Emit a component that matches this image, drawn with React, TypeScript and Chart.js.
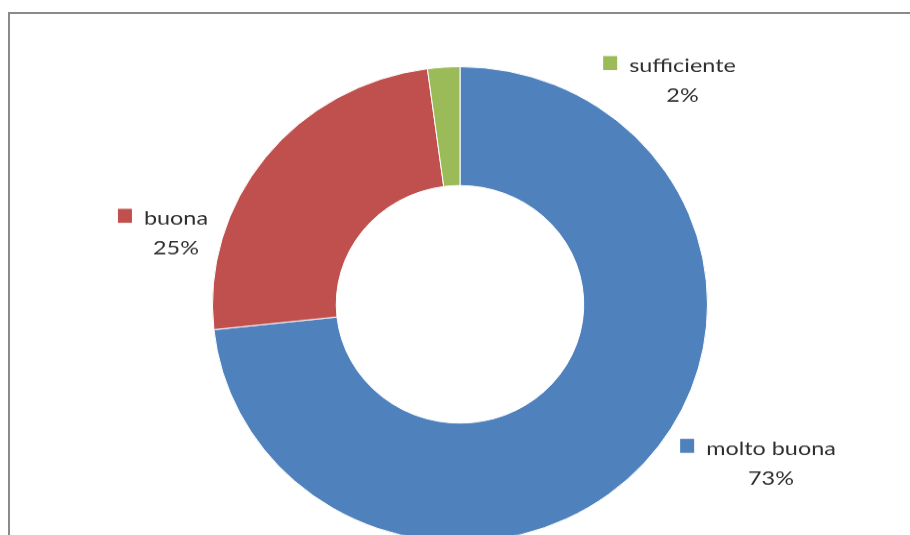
import React, { useEffect, useRef } from "react";
import { Chart, registerables } from "chart.js";

Chart.register(...registerables);

const categories = ["molto buona", "buona", "sufficiente"];
const values = [73.3, 24.6, 2.1];
const percentLabels = ["73%", "25%", "2%"];
const colors = ["#4F81BD", "#C0504D", "#9BBB59"];

// label anchor offsets (name text centre x, name baseline y), canvas px, relative to the doughnut centre
const labelOffsets = [
  { dx: 311, dy: 156.8 },
  { dx: -284, dy: -82.8 },
  { dx: 222.5, dy: -241.9 },
];

const FONT = '20px Lato, "Open Sans", sans-serif';
const TEXT_STRETCH = 1.17;
const CANVAS_W = 910;
const CANVAS_H = 600;
const Y_SCALE = 0.96;

const labelPlugin = {
  id: "outerLabels",
  afterDatasetsDraw(chart: any) {
    const ctx = chart.ctx;
    const meta = chart.getDatasetMeta(0);
    ctx.save();
    ctx.font = FONT;
    ctx.textBaseline = "alphabetic";
    ctx.textAlign = "center";
    meta.data.forEach((arc: any, i: number) => {
      const off = labelOffsets[i];
      const tx = arc.x + off.dx;
      const ty = arc.y + off.dy;
      const name = categories[i];
      const w = ctx.measureText(name).width * TEXT_STRETCH;
      ctx.fillStyle = "#2e2e2e";
      ctx.save();
      ctx.translate(tx, ty);
      ctx.scale(TEXT_STRETCH, 1);
      ctx.fillText(name, 0, 0);
      ctx.fillText(percentLabels[i], 0, 31);
      ctx.restore();
      // legend key
      ctx.fillStyle = colors[i];
      const sx = tx - w / 2 - 12 - 14;
      ctx.fillRect(sx, ty - 16.7, 14, 14.6);
    });
    ctx.restore();
  },
};

export default function App() {
  const ref = useRef<HTMLCanvasElement>(null);
  useEffect(() => {
    document.body.style.margin = "0";
    const chart = new Chart(ref.current!, {
      type: "doughnut",
      data: {
        labels: categories,
        datasets: [
          {
            data: values,
            backgroundColor: colors,
            borderColor: "#ffffff",
            borderWidth: 1,
          },
        ],
      },
      options: {
        responsive: false,
        animation: false,
        cutout: "50%",
        layout: { padding: { left: 212, right: 202, top: 69, bottom: 35 } },
        plugins: {
          legend: { display: false },
          tooltip: { enabled: false },
        },
      },
      plugins: [labelPlugin],
    });
    return () => chart.destroy();
  }, []);
  return (
    <div
      style={{
        position: "fixed",
        left: 0,
        top: 0,
        width: 910,
        height: 535,
        overflow: "hidden",
        background: "#fff",
      }}
    >
      <canvas
        ref={ref}
        width={CANVAS_W}
        height={CANVAS_H}
        style={{
          position: "absolute",
          left: 0,
          top: 0,
          width: CANVAS_W,
          height: CANVAS_H * Y_SCALE,
        }}
      />
      <div
        style={{
          position: "absolute",
          left: 8,
          top: 12,
          width: 920,
          height: 600,
          borderTop: "2px solid #8a8a8a",
          borderLeft: "2px solid #8a8a8a",
          pointerEvents: "none",
        }}
      />
    </div>
  );
}
